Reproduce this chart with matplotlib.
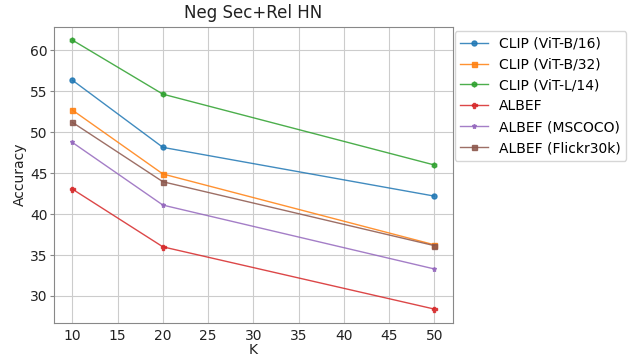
import matplotlib
matplotlib.use("Agg")
import matplotlib.pyplot as plt

K = [10, 20, 50]

clip_b16 = [56.35, 48.15, 42.2]
clip_b32 = [52.7, 44.9, 36.25]
clip_l14 = [61.25, 54.65, 46.0]
albef = [43.05, 36.0, 28.4]
albef_mscoco = [48.75, 41.1, 33.3]
albef_flickr = [51.2, 43.95, 36.15]

series = [
    ("CLIP (ViT-B/16)", clip_b16, "o"),
    ("CLIP (ViT-B/32)", clip_b32, "s"),
    ("CLIP (ViT-L/14)", clip_l14, "h"),
    ("ALBEF", albef, "P"),
    ("ALBEF (MSCOCO)", albef_mscoco, "*"),
    ("ALBEF (Flickr30k)", albef_flickr, "s"),
]

fig = plt.figure(figsize=(6.32, 3.56), dpi=100)
ax = fig.add_axes([0.086, 0.094, 0.63, 0.831])

for name, values, marker in series:
    ax.plot(K, values, marker=marker, markersize=3.6, linewidth=1,
            alpha=0.85, label=name)

ax.set_title("Neg Sec+Rel HN", fontsize=12, color="#222222")
ax.set_xlabel("K", fontsize=10, labelpad=0, color="#222222")
ax.set_ylabel("Accuracy", fontsize=10, labelpad=2, color="#222222")
ax.grid(True, color="#cccccc", linewidth=0.8)
ax.tick_params(axis="x", length=0, pad=5, labelsize=10, labelcolor="#222222")
ax.tick_params(axis="y", length=3, pad=2, labelsize=10, labelcolor="#222222",
               color="#888888")
for spine in ax.spines.values():
    spine.set_color("#888888")

ax.legend(loc="upper left", bbox_to_anchor=(0.995, 1.0), fontsize=10,
          handlelength=2, borderaxespad=0.3)

fig.savefig("out.png", dpi=100)
